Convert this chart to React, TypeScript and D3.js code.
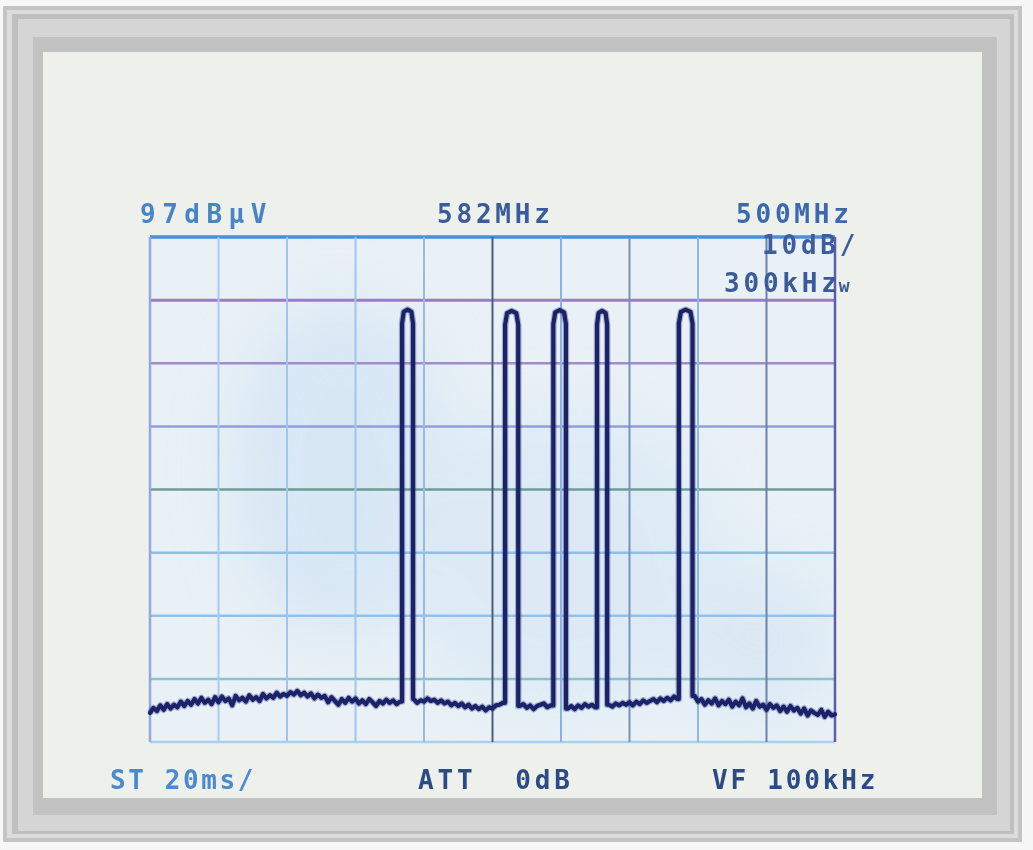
import * as d3 from 'd3'

// spectrum analyser settings
const freqStart = 332 // MHz, left edge of the graticule
const freqEnd = 832 // MHz, right edge
const freqStep = 2.5 // MHz between noise samples
const refLevel = 97 // dBµV, top of the graticule
const dbPerDiv = 10
const yDivs = 8
const xDivs = 10

const topLabels = ['97dBµV', '582MHz', '500MHz']
const sideLabels = ['10dB/', '300kHz']
const bottomLabels = ['ST 20ms/', 'ATT  0dB', 'VF 100kHz']

// noise floor in dBµV, one sample every 2.5 MHz from 332 MHz
const noiseFloor = [
  21.6, 22.4, 21.9, 22.8, 22.1, 23.0, 22.3, 22.9, 22.5, 23.4,
  22.7, 23.5, 22.9, 23.8, 23.1, 24.0, 23.2, 23.7, 23.0, 24.1,
  23.3, 24.2, 23.5, 23.9, 22.8, 24.3, 23.6, 24.0, 23.4, 24.4,
  23.7, 24.1, 23.5, 24.6, 23.9, 24.4, 24.0, 24.8, 24.2, 24.6,
  24.3, 24.9, 24.5, 25.1, 24.4, 24.8, 24.2, 24.7, 23.9, 24.5,
  24.0, 24.3, 23.3, 24.1, 23.5, 22.9, 23.8, 23.2, 24.0, 23.4,
  23.9, 23.1, 23.6, 23.0, 23.8, 23.3, 22.7, 23.5, 23.1, 23.7,
  23.2, 23.6, 23.0, 23.4, 23.1, 23.3, 23.5, 23.8, 23.2, 23.6,
  23.4, 23.9, 23.5, 23.7, 23.2, 23.6, 23.1, 23.4, 22.8, 23.2,
  22.7, 23.1, 22.5, 22.9, 22.3, 22.7, 22.2, 22.6, 22.0, 22.5,
  22.3, 22.8, 22.9, 23.2, 23.0, 22.9, 23.1, 22.4, 22.7, 23.0,
  22.4, 22.8, 22.2, 22.7, 22.9, 23.1, 22.5, 22.8, 23.0, 22.6,
  22.4, 22.9, 22.3, 22.7, 22.2, 22.8, 22.4, 23.0, 22.6, 22.9,
  22.5, 23.0, 22.7, 22.4, 22.9, 22.6, 23.1, 22.8, 23.2, 22.9,
  23.3, 22.8, 23.4, 23.0, 23.6, 23.2, 23.5, 23.8, 23.3, 23.9,
  23.5, 24.0, 23.6, 24.2, 23.8, 24.1, 23.9, 24.6, 24.0, 24.3,
  23.4, 23.8, 22.9, 23.6, 23.1, 23.9, 22.8, 23.5, 23.0, 23.7,
  22.6, 23.4, 22.8, 23.9, 22.5, 23.1, 22.3, 23.5, 22.6, 22.9,
  22.1, 23.0, 22.4, 22.8, 21.9, 22.6, 21.8, 22.7, 22.0, 22.4,
  21.5, 22.3, 21.2, 22.0, 21.6, 21.3, 22.1, 21.0, 21.8, 21.2,
  21.4,
]

// the five carriers: centre (MHz), half width (MHz), level (dBµV)
const channelCenters = [520, 596, 631, 662, 723]
const channelHalfWidths = [4.0, 4.8, 4.6, 3.7, 5.0]
const channelLevels = [85.5, 85.3, 85.4, 85.3, 85.5]

const hLineColors = ['#4b8fd6', '#9a7cc6', '#a58acb', '#8f9fd8', '#6f9c96', '#8cc0e6', '#92c2ea', '#8cc2cc', '#a6d2f0']
const hLineWidths = [3.5, 3, 2.5, 2.5, 2.5, 2.5, 2.5, 2.5, 2.5]
const vLineColors = ['#98a6de', '#a9c9ef', '#a0c6ec', '#a0c6ec', '#9cb9e6', '#4e5c7e', '#8cb2e0', '#7b92b8', '#8cbae2', '#6c82aa', '#5c5cb0']

const W = 1033
const H = 850

export default function App() {
  const x = d3.scaleLinear().domain([freqStart, freqEnd]).range([150, 835])
  const y = d3
    .scaleLinear()
    .domain([refLevel - dbPerDiv * yDivs, refLevel])
    .range([742, 237])

  const xGrid = d3.range(xDivs + 1).map((i) => freqStart + ((freqEnd - freqStart) / xDivs) * i)
  const yGrid = d3.range(yDivs + 1).map((i) => refLevel - dbPerDiv * i)

  // assemble the sweep: noise floor with the carriers cut in
  const trace: [number, number][] = []
  const inChannel = (f: number) =>
    channelCenters.some((c, k) => Math.abs(f - c) <= channelHalfWidths[k])
  noiseFloor.forEach((v, i) => {
    const f = freqStart + i * freqStep
    if (!inChannel(f)) trace.push([f, v])
    const next = f + freqStep
    channelCenters.forEach((c, k) => {
      const hw = channelHalfWidths[k]
      const lo = c - hw
      const hi = c + hw
      if (lo > f && lo <= next) {
        const lvl = channelLevels[k]
        const after = noiseFloor[Math.min(noiseFloor.length - 1, Math.ceil((hi - freqStart) / freqStep))]
        trace.push(
          [lo, v],
          [lo, lvl - 2.2],
          [lo + hw * 0.3, lvl - 0.35],
          [c, lvl],
          [hi - hw * 0.3, lvl - 0.35],
          [hi, lvl - 2.2],
          [hi, after],
        )
      }
    })
  })

  const line = d3
    .line<[number, number]>()
    .x((d) => x(d[0]))
    .y((d) => y(d[1]))

  const font = {
    fontFamily: '"DejaVu Sans Mono", monospace',
    fontWeight: 700,
    fontSize: 26,
    letterSpacing: 3.8,
    style: { whiteSpace: 'pre' as const },
  }

  const gx = x(freqStart)
  const gy = y(refLevel)
  const gw = x(freqEnd) - gx
  const gh = y(refLevel - dbPerDiv * yDivs) - gy

  return (
    <svg
      width={W}
      height={H}
      viewBox={`0 0 ${W} ${H}`}
      style={{ position: 'fixed', left: 0, top: 0 }}
    >
      <defs>
        <filter id="soft" x="-5%" y="-5%" width="110%" height="110%">
          <feGaussianBlur stdDeviation="0.7" />
        </filter>
        <filter id="haze" x="-50%" y="-50%" width="200%" height="200%">
          <feGaussianBlur stdDeviation="30" />
        </filter>
        <clipPath id="screen">
          <rect x={gx} y={gy} width={gw} height={gh} />
        </clipPath>
      </defs>

      {/* bezel */}
      <rect width={W} height={H} fill="#f7f7f7" />
      <rect x={3} y={6} width={1019} height={836} fill="#c4c4c4" />
      <rect x={7} y={10} width={1011} height={828} fill="#dcdcdc" />
      <rect x={12} y={14} width={1002} height={820} fill="#bfbfbf" />
      <rect x={18} y={19} width={992} height={812} fill="#d5d5d5" />
      <rect x={33} y={37} width={964} height={778} fill="#c2c2c2" />
      <rect x={43} y={52} width={939} height={746} fill="#eef0ec" />

      <g filter="url(#soft)">
        {/* bluish wash on the screen */}
        <rect x={gx} y={gy} width={gw} height={gh} fill="#e9f1f6" />
        <g clipPath="url(#screen)">
          <g filter="url(#haze)" opacity={0.7}>
            <ellipse cx={340} cy={470} rx={110} ry={170} fill="#d2e4f4" />
            <ellipse cx={560} cy={560} rx={160} ry={150} fill="#d8e8f5" />
            <ellipse cx={760} cy={640} rx={80} ry={80} fill="#d6e6f4" />
          </g>
        </g>

        {/* graticule */}
        {yGrid.map((v, i) => (
          <line
            key={`h${i}`}
            x1={gx}
            x2={gx + gw}
            y1={y(v)}
            y2={y(v)}
            stroke={hLineColors[i]}
            strokeWidth={hLineWidths[i]}
          />
        ))}
        {xGrid.map((f, i) => (
          <line
            key={`v${i}`}
            x1={x(f)}
            x2={x(f)}
            y1={gy}
            y2={gy + gh}
            stroke={vLineColors[i]}
            strokeWidth={i === 0 || i === xDivs ? 2.5 : 2}
          />
        ))}

        {/* sweep */}
        <path d={line(trace) ?? ''} fill="none" stroke="#24307e" strokeOpacity={0.35} strokeWidth={6.5} strokeLinejoin="round" />
        <path d={line(trace) ?? ''} fill="none" stroke="#1a2068" strokeWidth={4.2} strokeLinejoin="round" strokeLinecap="round" />

        {/* readouts */}
        <text x={140} y={223} fill="#4784c8" {...font} letterSpacing={6.5}>{topLabels[0]}</text>
        <text x={437} y={223} fill="#3a5c9c" {...font}>{topLabels[1]}</text>
        <text x={736} y={223} fill="#3a68ae" {...font}>{topLabels[2]}</text>
        <text x={762} y={254} fill="#3d5d9d" {...font}>{sideLabels[0]}</text>
        <text x={724} y={292} fill="#3a5a98" {...font}>
          {sideLabels[1]}
          <tspan fontSize={18} dx={-2}>w</tspan>
        </text>
        <text x={110} y={789} fill="#4a8ad0" {...font} letterSpacing={2.6}>{bottomLabels[0]}</text>
        <text x={418} y={789} fill="#2c4c84" {...font}>{bottomLabels[1]}</text>
        <text x={712} y={789} fill="#2c4c84" {...font} letterSpacing={2.8}>{bottomLabels[2]}</text>
      </g>
    </svg>
  )
}
